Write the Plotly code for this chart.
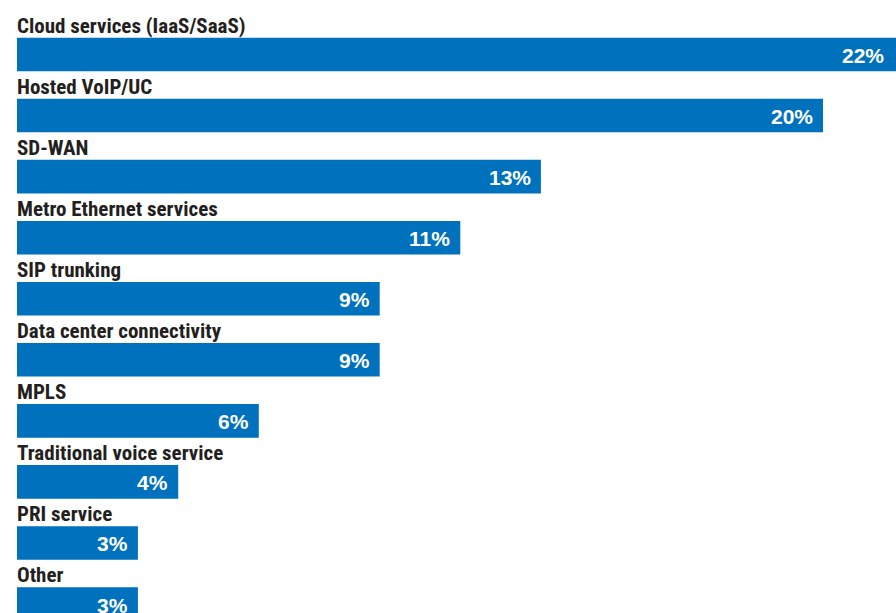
import plotly.graph_objects as go

categories = [
    "Cloud services (IaaS/SaaS)",
    "Hosted VoIP/UC",
    "SD-WAN",
    "Metro Ethernet services",
    "SIP trunking",
    "Data center connectivity",
    "MPLS",
    "Traditional voice service",
    "PRI service",
    "Other",
]
values = [22, 20, 13, 11, 9, 9, 6, 4, 3, 3]
value_labels = [f"{v}%" for v in values]

BAR_COLOR = "#0071bc"
LABEL_COLOR = "#231f20"

fig = go.Figure(
    go.Bar(
        x=values,
        y=categories,
        orientation="h",
        marker=dict(color=BAR_COLOR, line=dict(width=0)),
        width=0.55,
        hoverinfo="skip",
    )
)

annotations = []
for cat, val, lab in zip(categories, values, value_labels):
    annotations.append(dict(
        x=0, y=cat, xref="x", yref="y", text=cat, showarrow=False,
        xanchor="left", yanchor="bottom", yshift=15, xshift=-2,
        font=dict(family="Roboto Condensed, Liberation Sans Narrow, Roboto, sans-serif",
                  size=21, color=LABEL_COLOR, weight="bold"),
    ))
    annotations.append(dict(
        x=min(val, 21.8), y=cat, xref="x", yref="y", text=lab, showarrow=False,
        xanchor="right", yanchor="middle", xshift=-8 if val < 21.8 else -10, yshift=-1,
        font=dict(family="Liberation Sans, Arial, sans-serif",
                  size=21, color="white", weight="bold"),
    ))

fig.update_layout(
    width=896, height=613,
    margin=dict(l=17, r=0, t=0, b=0),
    paper_bgcolor="white", plot_bgcolor="white",
    showlegend=False,
    annotations=annotations,
    xaxis=dict(range=[0, 879 / 40.3], visible=False, fixedrange=True),
    yaxis=dict(range=[9.147, -0.893], visible=False, fixedrange=True,
               categoryorder="array", categoryarray=categories),
)

fig.write_html("out.html")
